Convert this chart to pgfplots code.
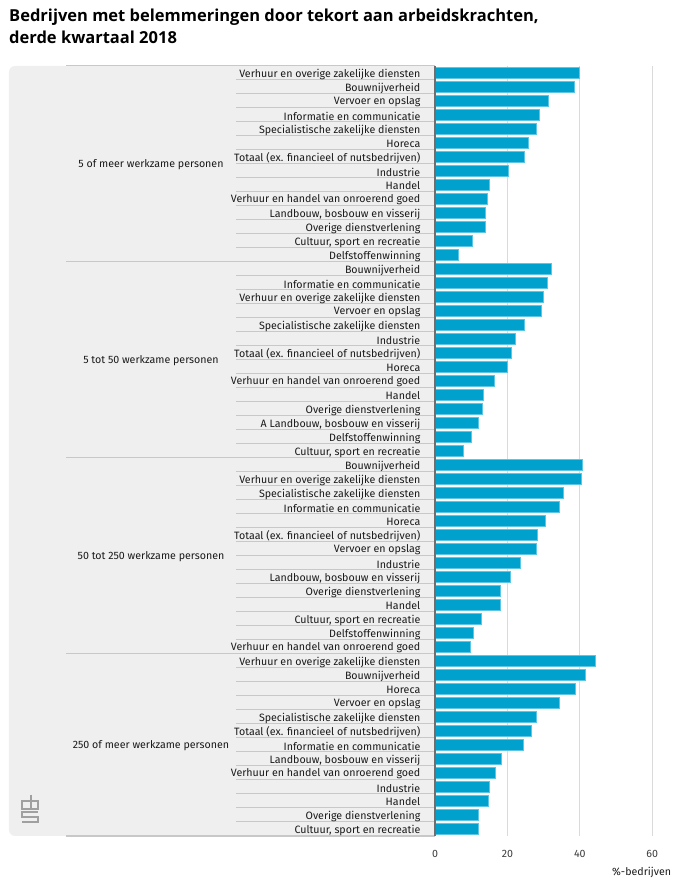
\documentclass[border=0pt]{standalone}
\usepackage{pgfplots}
\pgfplotsset{compat=1.18}
\usepackage{fontspec}
\setmainfont{Fira Sans}
\newfontfamily\titlefont{Open Sans}
\definecolor{cbsblue}{HTML}{00A1CD}
\definecolor{cbsedge}{HTML}{5CC6E4}
\definecolor{panel}{HTML}{EFEFEF}
\definecolor{sepc}{HTML}{C8C8C8}
\definecolor{gridc}{HTML}{DADADA}
\definecolor{axc}{HTML}{6E6E6E}
\definecolor{txt}{HTML}{1A1A1A}
\definecolor{logoc}{HTML}{A0A0A0}
\newcommand{\lbl}{\fontsize{10.65bp}{12bp}\selectfont}
\pgfdeclarelayer{background}
\pgfsetlayers{background,main}
\begin{document}
\begin{tikzpicture}[x=1bp,y=1bp]
\begin{axis}[
  scale only axis,
  width=217.3bp, height=770bp,
  xmin=0, xmax=60, ymin=0.5, ymax=55.5, y dir=reverse,
  xbar, bar width=11bp,
  axis line style={draw=none},
  major tick length=0pt,
  xtick={0,20,40,60},
  xmajorgrids, grid style={gridc, line width=1bp},
  ytick={1,...,55},
  yticklabels={
    Verhuur en overige zakelijke diensten, Bouwnijverheid, Vervoer en opslag, Informatie en communicatie,
    Specialistische zakelijke diensten, Horeca, Totaal (ex. financieel of nutsbedrijven), Industrie, Handel,
    Verhuur en handel van onroerend goed, {Landbouw, bosbouw en visserij}, Overige dienstverlening,
    {Cultuur, sport en recreatie}, Delfstoffenwinning,
    Bouwnijverheid, Informatie en communicatie, Verhuur en overige zakelijke diensten, Vervoer en opslag,
    Specialistische zakelijke diensten, Industrie, Totaal (ex. financieel of nutsbedrijven), Horeca,
    Verhuur en handel van onroerend goed, Handel, Overige dienstverlening, {A Landbouw, bosbouw en visserij},
    Delfstoffenwinning, {Cultuur, sport en recreatie},
    Bouwnijverheid, Verhuur en overige zakelijke diensten, Specialistische zakelijke diensten,
    Informatie en communicatie, Horeca, Totaal (ex. financieel of nutsbedrijven), Vervoer en opslag,
    Industrie, {Landbouw, bosbouw en visserij}, Overige dienstverlening, Handel, {Cultuur, sport en recreatie},
    Delfstoffenwinning, Verhuur en handel van onroerend goed,
    Verhuur en overige zakelijke diensten, Bouwnijverheid, Horeca, Vervoer en opslag,
    Specialistische zakelijke diensten, Totaal (ex. financieel of nutsbedrijven), Informatie en communicatie,
    {Landbouw, bosbouw en visserij}, Verhuur en handel van onroerend goed, Industrie, Handel,
    Overige dienstverlening, {Cultuur, sport en recreatie}},
  yticklabel style={font=\lbl, text=txt, anchor=east, inner sep=0pt, xshift=-14.5bp, yshift=-1bp},
  xticklabel style={font=\lbl, text=txt!85, inner sep=0pt, yshift=-14bp},
  /pgf/number format/assume math mode=true,
  xlabel={\%-bedrijven},
  every axis x label/.style={at={(axis description cs:1,0)}, anchor=north east,
     inner sep=0pt, xshift=19bp, yshift=-31bp, font=\lbl, text=txt},
  clip=false,
]
\addplot[fill=cbsblue, draw=cbsedge, line width=0.8bp, bar shift=0pt] coordinates {
 (39.9,1) (38.5,2) (31.4,3) (28.9,4) (28.0,5) (25.7,6) (24.8,7)
 (20.4,8) (14.9,9) (14.6,10) (13.9,11) (13.9,12) (10.3,13) (6.5,14)};
\addplot[fill=cbsblue, draw=cbsedge, line width=0.8bp, bar shift=0pt] coordinates {
 (32.2,15) (30.9,16) (29.8,17) (29.5,18) (24.7,19) (22.1,20) (21.0,21)
 (19.9,22) (16.3,23) (13.3,24) (13.1,25) (12.0,26) (10.0,27) (7.9,28)};
\addplot[fill=cbsblue, draw=cbsedge, line width=0.8bp, bar shift=0pt] coordinates {
 (40.7,29) (40.5,30) (35.5,31) (34.4,32) (30.6,33) (28.4,34) (28.1,35)
 (23.7,36) (20.7,37) (18.0,38) (18.0,39) (12.8,40) (10.6,41) (9.7,42)};
\addplot[fill=cbsblue, draw=cbsedge, line width=0.8bp, bar shift=0pt] coordinates {
 (44.3,43) (41.6,44) (38.8,45) (34.4,46) (28.1,47) (26.5,48) (24.3,49)
 (18.3,50) (16.6,51) (15.0,52) (14.7,53) (12.0,54) (12.0,55)};
\draw[axc, line width=2bp] (axis cs:0,0.5) -- (axis cs:0,55.5);
\coordinate (O) at (axis cs:0,55.5);
\end{axis}
\begin{pgfonlayer}{background}
\begin{scope}[shift={(O)}, xshift=-435bp, yshift=-52bp]
\path (0,0) rectangle (684,888);
% title
\node[anchor=base west, inner sep=0pt, align=left, text=black,
      font=\titlefont\bfseries\fontsize{16.5bp}{21.5bp}\selectfont] at (9,{888-22})
  {Bedrijven met belemmeringen door tekort aan arbeidskrachten,};
\node[anchor=base west, inner sep=0pt, align=left, text=black,
      font=\titlefont\bfseries\fontsize{16.5bp}{21.5bp}\selectfont] at (9,{888-43.5})
  {derde kwartaal 2018};
% panel
\fill[panel] (435,822) [rounded corners=6bp] -- (9,822) -- (9,52) [sharp corners] -- (435,52) -- cycle;
\foreach \i in {1,...,54}{\draw[sepc, line width=1bp] (236,{822-14*\i}) -- (435,{822-14*\i});}
\foreach \i in {0,14,28,42,55}{\draw[sepc, line width=1bp] (66,{822-14*\i}) -- (435,{822-14*\i});}
% group labels
\node[font=\lbl, text=txt] at (151,{888-165}) {5 of meer werkzame personen};
\node[font=\lbl, text=txt] at (151,{888-361}) {5 tot 50 werkzame personen};
\node[font=\lbl, text=txt] at (151,{888-557}) {50 tot 250 werkzame personen};
\node[font=\lbl, text=txt] at (151,{888-746}) {250 of meer werkzame personen};
% cbs logo
\draw[logoc, line width=1.3bp] (30,{888-801}) -- (22,{888-801}) -- (22,{888-809}) -- (30,{888-809});
\draw[logoc, line width=1.3bp] (31,{888-795}) -- (31,{888-809}) -- (38,{888-809}) -- (38,{888-801}) -- (31,{888-801});
\draw[logoc, line width=1.3bp] (38,{888-812}) -- (22,{888-812}) -- (22,{888-817}) -- (38,{888-817}) -- (38,{888-822}) -- (22,{888-822});
\end{scope}
\end{pgfonlayer}
\end{tikzpicture}
\end{document}
